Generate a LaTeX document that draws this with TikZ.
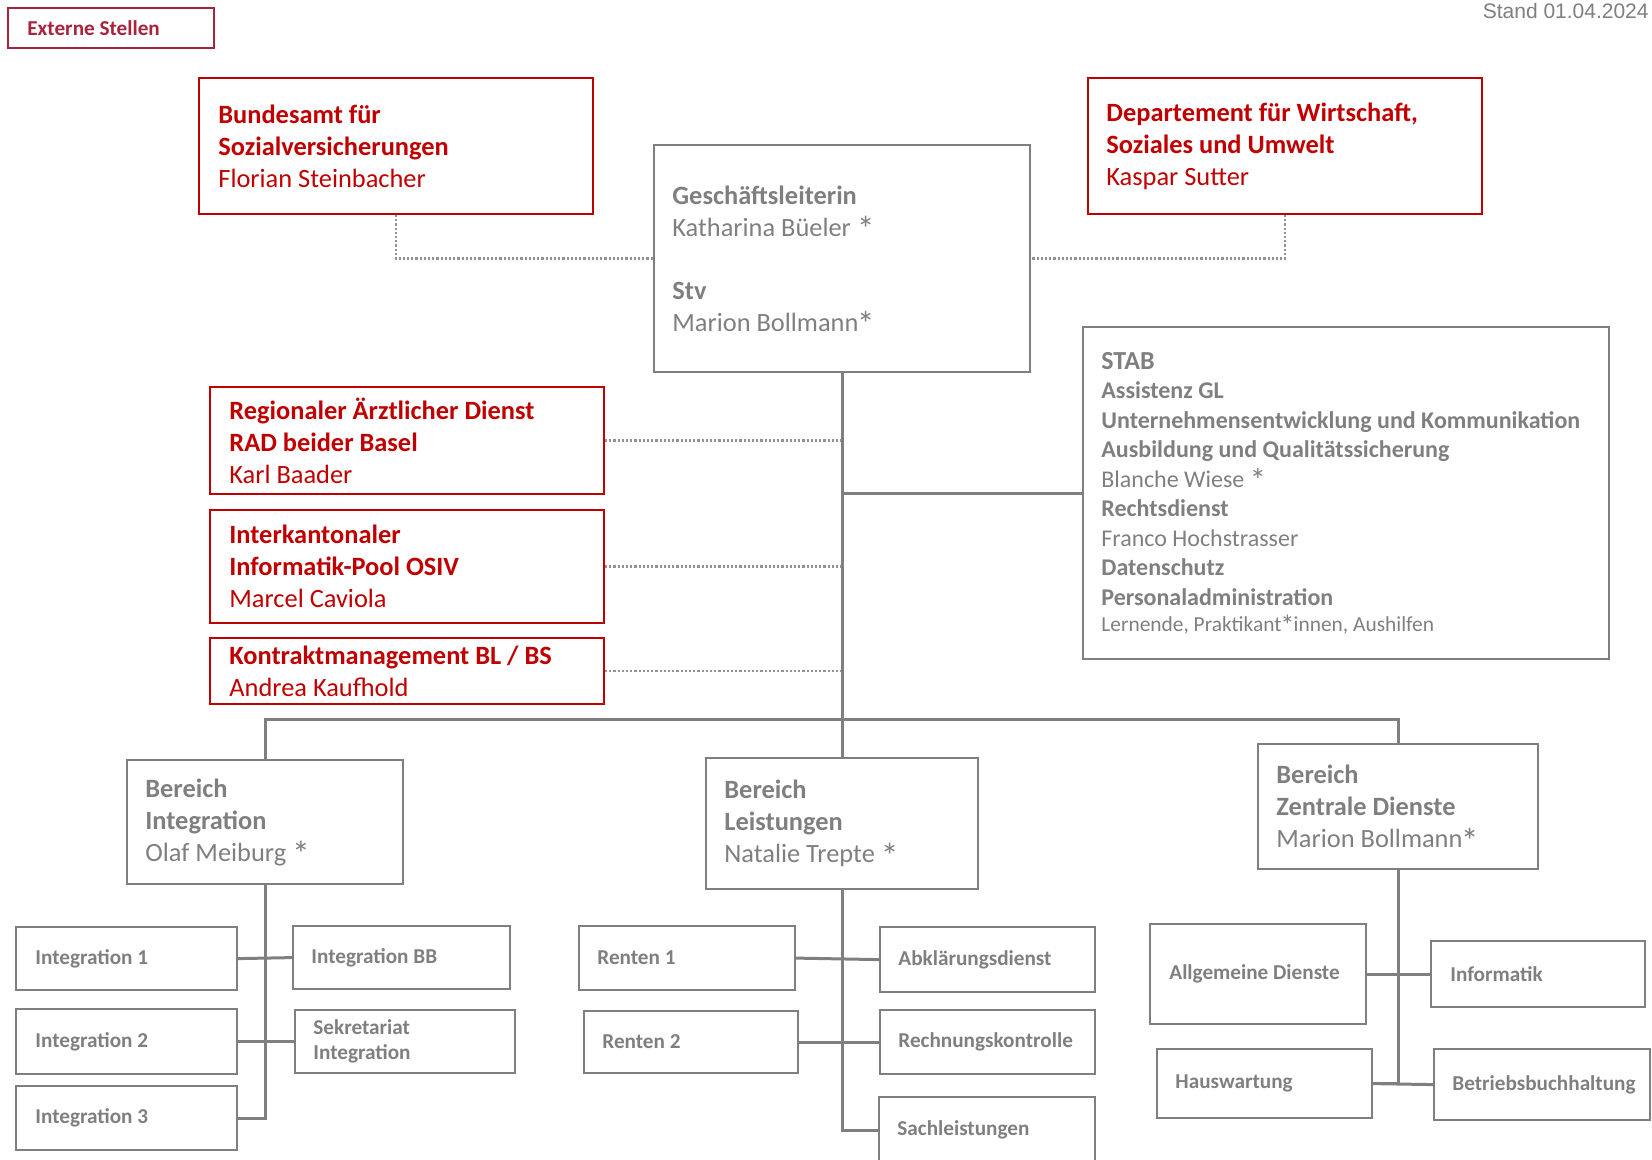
\documentclass[tikz,border=0pt]{standalone}
\usepackage{fontspec}
\setmainfont{Carlito}
\newfontfamily\arialf{Liberation Sans}
\definecolor{rd}{HTML}{C00000}
\definecolor{gr}{HTML}{7F7F7F}
\definecolor{ext}{HTML}{A8243C}
\newcommand\stx{\smash{\raisebox{-0.2em}{\scalebox{1.35}{*}}}}
\tikzset{
  gbox/.style={draw=gr, line width=1.1pt},
  rbox/.style={draw=rd, line width=1pt},
  ebox/.style={draw=ext, line width=1.1pt},
  conn/.style={draw=gr, line width=1.5pt},
  dotl/.style={draw=gr!85, line width=1.1pt, dash pattern=on 1.1pt off 1pt},
  txt/.style={anchor=west, align=left, inner sep=0pt},
  bigg/.style={txt, text=gr, font=\fontsize{13.2}{16}\selectfont},
  bigr/.style={txt, text=rd, font=\fontsize{13.2}{16}\selectfont},
  stabt/.style={txt, text=gr, font=\fontsize{12}{14.75}\selectfont},
  smallt/.style={txt, text=gr, font=\fontsize{10.6}{12.5}\selectfont\bfseries},
  extt/.style={txt, text=ext, font=\fontsize{10.6}{12.5}\selectfont\bfseries},
}
% #1 box style, #2 name, #3 x1, #4 y1, #5 x2, #6 y2, #7 text offset, #8 text style, #9 text
\newcommand\obox[9]{%
  \pgfmathsetmacro\obw{(#5-#3)*0.5}%
  \pgfmathsetmacro\obh{(#6-#4)*0.5}%
  \node[#1, anchor=north west, minimum width=\obw pt, minimum height=\obh pt, inner sep=0pt] (#2) at (#3,#4) {};%
  \node[#8] (#2t) at ([xshift=#7*0.5pt]#2.west) {#9};%
}
\begin{document}
\begin{tikzpicture}[x=0.5pt, y=-0.5pt]
\useasboundingbox (0,0) rectangle (1652,1160);
% header
\obox{ebox}{ext}{7}{7}{213}{47}{20}{extt}{Externe Stellen}
\node[anchor=base east, inner sep=0pt, text=gr, font=\arialf\fontsize{10.5}{12}\selectfont] (stand) at (1649,19) {Stand 01.04.2024};
% top level
\obox{rbox}{bsv}{198}{77}{592}{213}{20}{bigr}{\textbf{Bundesamt für}\\\textbf{Sozialversicherungen}\\Florian Steinbacher}
\obox{gbox}{gl}{653}{144}{1029}{371}{19}{bigg}{\textbf{Geschäftsleiterin}\\Katharina Büeler \stx\\[15.5pt]\textbf{Stv}\\Marion Bollmann\kern-0.06em\stx}
\obox{rbox}{dep}{1087}{77}{1481}{213}{19}{bigr}{\textbf{Departement für Wirtschaft,}\\\textbf{Soziales und Umwelt}\\Kaspar Sutter}
\obox{gbox}{stab}{1082}{326}{1608}{658}{19}{stabt}{{\fontsize{13}{14.75}\selectfont\textbf{STAB}}\\\textbf{Assistenz GL}\\\textbf{Unternehmensentwicklung und Kommunikation}\\\textbf{Ausbildung und Qualitätssicherung}\\Blanche Wiese \stx\\\textbf{Rechtsdienst}\\Franco Hochstrasser\\\textbf{Datenschutz}\\\textbf{Personaladministration}\\[-1.5pt]{\fontsize{10.7}{13}\selectfont Lernende, Praktikant\kern-0.05em\stx\kern-0.05em innen, Aushilfen}}
\obox{rbox}{rad}{209}{386}{603}{493}{20}{bigr}{\textbf{Regionaler Ärztlicher Dienst}\\\textbf{RAD beider Basel}\\Karl Baader}
\obox{rbox}{ikp}{209}{509}{603}{622}{20}{bigr}{\textbf{Interkantonaler}\\\textbf{Informatik-Pool OSIV}\\Marcel Caviola}
\obox{rbox}{kon}{209}{637}{603}{703}{20}{bigr}{\textbf{Kontraktmanagement BL / BS}\\Andrea Kaufhold}
% Bereiche
\obox{gbox}{bi}{126}{759}{402}{883}{19}{bigg}{\textbf{Bereich}\\\textbf{Integration}\\Olaf Meiburg \stx}
\obox{gbox}{bl}{705}{757}{977}{888}{19}{bigg}{\textbf{Bereich}\\\textbf{Leistungen}\\Natalie Trepte \stx}
\obox{gbox}{bz}{1257}{743}{1537}{868}{19}{bigg}{\textbf{Bereich}\\\textbf{Zentrale Dienste}\\Marion Bollmann\kern-0.06em\stx}
% Integration units
\obox{gbox}{i1}{15}{926}{236}{989}{20}{smallt}{Integration 1}
\obox{gbox}{i2}{15}{1008}{236}{1073}{20}{smallt}{Integration 2}
\obox{gbox}{i3}{15}{1085}{236}{1149}{20}{smallt}{Integration 3}
\obox{gbox}{ibb}{292}{925}{509}{988}{19}{smallt}{Integration BB}
\obox{gbox}{sek}{294}{1009}{514}{1072}{19}{smallt}{Sekretariat\\Integration}
% Leistungen units
\obox{gbox}{r1}{578}{925}{794}{989}{19}{smallt}{Renten 1}
\obox{gbox}{r2}{583}{1010}{797}{1072}{19}{smallt}{Renten 2}
\obox{gbox}{ab}{879}{926}{1094}{991}{19}{smallt}{Abklärungsdienst}
\obox{gbox}{rk}{879}{1009}{1094}{1073}{19}{smallt}{Rechnungskontrolle}
\obox{gbox}{sach}{878}{1096}{1094}{1162}{19}{smallt}{Sachleistungen}
% Zentrale Dienste units
\obox{gbox}{ad}{1149}{923}{1365}{1023}{20}{smallt}{Allgemeine Dienste}
\obox{gbox}{inf}{1430}{940}{1644}{1006}{20}{smallt}{Informatik}
\obox{gbox}{hw}{1156}{1048}{1371}{1117}{19}{smallt}{Hauswartung}
\obox{gbox}{bb}{1433}{1048}{1649}{1119}{19}{smallt}{Betriebsbuchhaltung}
% dotted links
\draw[dotl] (bsv.south) |- (gl.west);
\draw[dotl] (dep.south) |- (gl.east);
\draw[dotl] (rad.east) -- (rad.east -| gl.south);
\draw[dotl] (ikp.east) -- (ikp.east -| gl.south);
\draw[dotl] (kon.east) -- (kon.east -| gl.south);
% solid connectors
\coordinate (bar) at (841,719);
\draw[conn] (gl.south) -- (bl.north);
\draw[conn] (gl.south |- stab.west) -- (stab.west);
\draw[conn] (bi.north) |- (bar) -| (bz.north);
\draw[conn] (bi.south) -- (bi.south |- i3.east) -- (i3.east);
\draw[conn] (i1.east) -- (ibb.west);
\draw[conn] (i2.east) -- (sek.west);
\draw[conn] (bl.south) -- (bl.south |- sach.west) -- (sach.west);
\draw[conn] (r1.east) -- (ab.west);
\draw[conn] (r2.east) -- (rk.west);
\draw[conn] (bz.south) -- (bz.south |- hw.east) -- (hw.east);
\draw[conn] (ad.east) -- (inf.west);
\draw[conn] (hw.east) -- (bb.west);
\end{tikzpicture}
\end{document}
